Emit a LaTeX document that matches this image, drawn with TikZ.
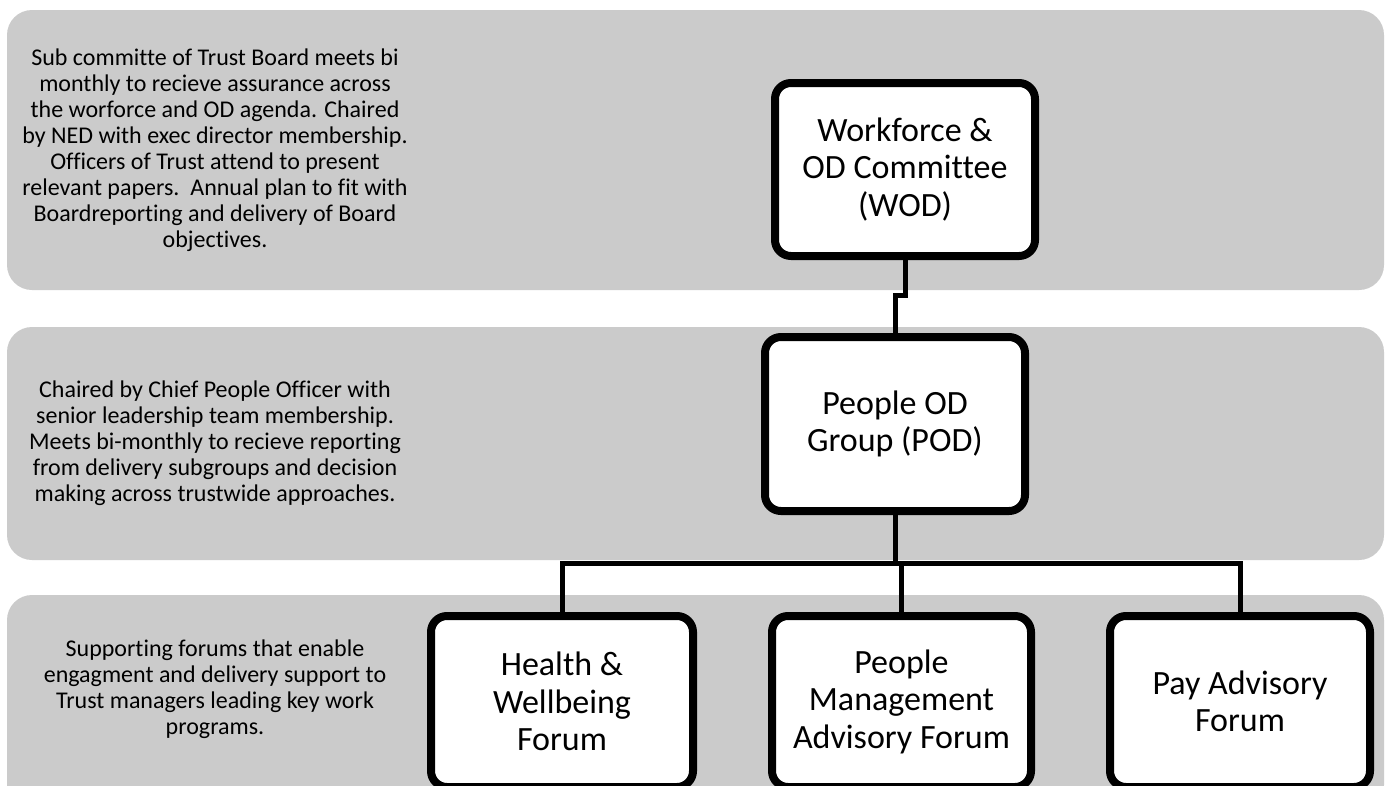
\documentclass[tikz,border=0pt]{standalone}
\usepackage{fontspec}
\setmainfont{Carlito}[Ligatures=NoCommon]
\usetikzlibrary{calc}
\definecolor{bandgray}{HTML}{CBCBCB}
\begin{document}
\begin{tikzpicture}[x=1pt,y=-1pt,
  band/.style={fill=bandgray, rounded corners=25pt},
  note/.style={align=center, font=\fontsize{24}{26}\selectfont, text=black, inner sep=0pt},
  unit/.style={draw=black, fill=white, line width=8pt, rounded corners=16pt,
    minimum width=260pt, minimum height=173pt, align=center,
    font=\fontsize{34}{37.5}\selectfont, inner sep=0pt},
  link/.style={draw=black, line width=5pt}]
\useasboundingbox (0,0) rectangle (1385,785);
\clip (0,0) rectangle (1385,785);

% horizontal bands, one per governance tier
\fill[band] (7,10) rectangle (1384,290);
\fill[band] (7,327) rectangle (1384,560);
\fill[band] (7,595) rectangle (1384,810);

% tier descriptions
\node[note] (tier1) at (215,150) {Sub committe of Trust Board meets bi\\monthly to recieve assurance across\\the worforce and OD agenda. Chaired\\by NED with exec director membership.\\Officers of Trust attend to present\\relevant papers.\ \ Annual plan to fit with\\Boardreporting and delivery of Board\\objectives.};
\node[note] (tier2) at (215,443) {Chaired by Chief People Officer with\\senior leadership team membership.\\Meets bi-monthly to recieve reporting\\from delivery subgroups and decision\\making across trustwide approaches.};
\node[note] (tier3) at (215,689) {Supporting forums that enable\\engagment and delivery support to\\Trust managers leading key work\\programs.};

% governance bodies
\node[unit] (wod) at (905,169.5) {Workforce \&\\OD Committee\\(WOD)};
\node[unit, minimum height=174pt] (pod) at (895,424) {People OD\\Group (POD)};
\node[unit, minimum width=262pt, minimum height=171pt] (hw) at (562,701.5) {Health \&\\Wellbeing\\Forum};
\node[unit, minimum width=259pt, minimum height=171pt] (pm) at (901.5,701.5) {People\\Management\\Advisory Forum};
\node[unit, minimum height=171pt] (pay) at (1240,701.5) {Pay Advisory\\Forum};

% reporting lines
\coordinate (busy) at (0,563);
\draw[link] (wod.south) -- ++(0,35) -| (pod.north);
\draw[link] (pod.south) -- (pod.south |- busy);
\draw[link] (hw.north) |- (pay.north |- busy) -- (pay.north);
\draw[link] (pm.north) -- (pm.north |- busy);
\end{tikzpicture}
\end{document}
